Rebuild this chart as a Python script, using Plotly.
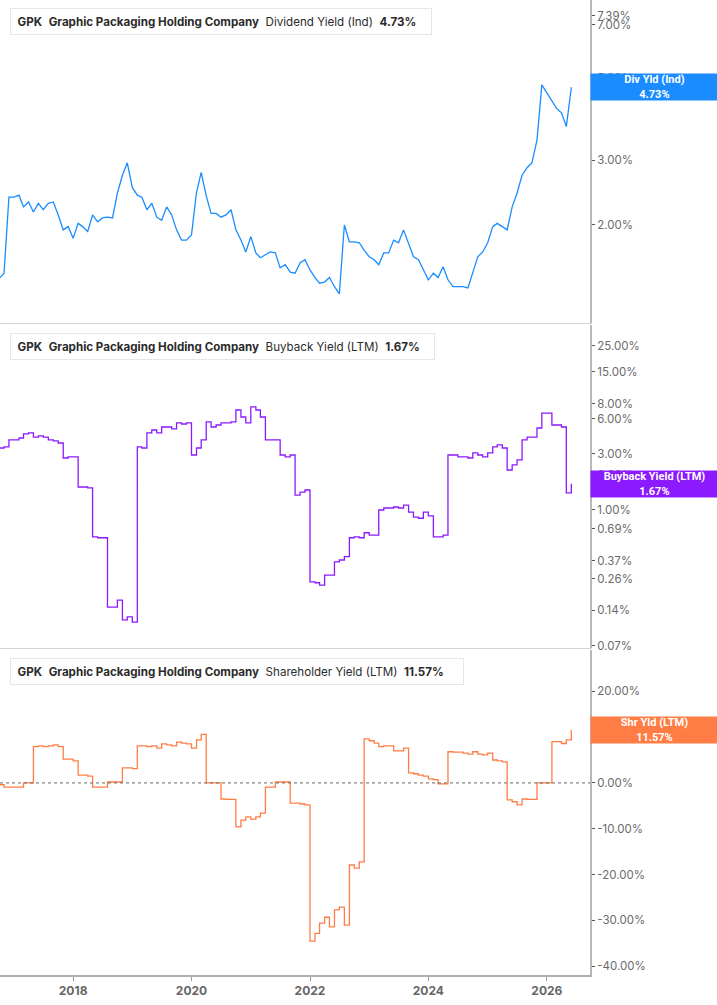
import numpy as np
import pandas as pd
import plotly.graph_objects as go

# monthly observations, Oct 2016 .. Jun 2026
dates = pd.date_range("2016-10-01", periods=117, freq="MS")

div_yield = [
    1.43, 1.48, 2.38, 2.38, 2.41, 2.24, 2.31, 2.17, 2.29, 2.20, 2.29, 2.31, 2.13, 1.94, 1.98,
    1.84, 2.02, 1.98, 1.92, 2.13, 2.04, 2.09, 2.10, 2.09, 2.44, 2.73, 2.95, 2.53, 2.41, 2.38,
    2.20, 2.29, 2.10, 2.06, 2.24, 2.13, 1.94, 1.82, 1.82, 1.88, 2.45, 2.78, 2.40, 2.15, 2.15,
    2.10, 2.13, 2.20, 1.94, 1.82, 1.69, 1.86, 1.68, 1.63, 1.66, 1.69, 1.68, 1.53, 1.56, 1.49,
    1.48, 1.58, 1.61, 1.51, 1.44, 1.39, 1.40, 1.44, 1.36, 1.30, 2.00, 1.80, 1.80, 1.79, 1.71,
    1.64, 1.61, 1.56, 1.68, 1.68, 1.82, 1.79, 1.94, 1.79, 1.64, 1.61, 1.51, 1.42, 1.48, 1.44,
    1.54, 1.42, 1.36, 1.36, 1.36, 1.35, 1.49, 1.64, 1.69, 1.79, 1.98, 2.02, 1.98, 1.94, 2.24,
    2.44, 2.73, 2.86, 2.95, 3.40, 4.80, 4.57, 4.37, 4.15, 4.03, 3.70, 4.73,
]

buyback_yield = [
    3.37, 3.44, 3.95, 3.95, 4.10, 4.44, 4.53, 4.18, 4.27, 4.18, 3.95, 3.87, 3.72, 2.77, 2.83,
    2.83, 1.57, 1.57, 1.54, 0.59, 0.58, 0.58, 0.149, 0.149, 0.171, 0.116, 0.123, 0.111, 3.44, 3.37,
    4.53, 4.80, 4.53, 5.09, 5.09, 4.90, 5.51, 5.40, 5.51, 2.94, 3.37, 3.95, 5.62, 5.09, 5.29,
    5.51, 5.51, 5.62, 7.10, 6.19, 5.51, 7.54, 7.10, 6.19, 3.95, 3.95, 3.95, 2.94, 2.83, 2.94,
    1.34, 1.42, 1.48, 0.244, 0.24, 0.229, 0.279, 0.279, 0.361, 0.375, 0.40, 0.58, 0.59, 0.58, 0.64,
    0.61, 0.61, 1.00, 1.04, 1.04, 1.06, 1.04, 1.10, 0.96, 0.87, 0.85, 0.96, 0.89, 0.59, 0.59,
    0.61, 2.94, 2.94, 2.83, 2.83, 2.77, 3.06, 2.94, 2.83, 3.06, 3.44, 3.58, 3.37, 2.19, 2.42,
    2.67, 3.95, 4.18, 4.18, 4.99, 6.69, 6.69, 5.29, 5.29, 5.09, 1.40, 1.67,
]

shareholder_yield = [
    -0.4, -0.9, -0.9, -0.9, -0.9, 0.0, 0.0, 7.9, 8.1, 7.9, 8.1, 8.3, 7.9, 5.2, 5.2,
    4.8, 1.7, 1.7, 1.5, -0.9, -0.9, -0.9, 0.2, 0.2, 0.2, 3.3, 3.3, 3.1, 8.1, 8.1,
    7.9, 8.1, 7.6, 8.5, 8.3, 8.1, 8.9, 8.7, 8.5, 7.6, 9.4, 10.6, 0.0, 0.0, 0.0,
    -3.5, -3.6, -3.6, -9.6, -8.1, -7.4, -7.9, -7.4, -6.6, -0.9, -0.9, 0.2, 0.2, 0.2, -4.4,
    -4.4, -4.6, -4.8, -34.5, -32.8, -30.6, -29.3, -31.4, -27.7, -27.1, -31.0, -17.9, -18.6, -17.2, 9.6,
    9.2, 8.7, 7.9, 8.1, 8.1, 7.0, 7.0, 7.6, 2.2, 2.0, 1.7, 1.5, 0.9, 0.7, -0.2,
    -0.2, 6.8, 6.7, 6.7, 6.5, 6.3, 6.8, 6.3, 6.1, 6.5, 5.0, 4.8, 4.6, -3.7, -4.1,
    -4.8, -3.5, -3.6, -3.6, 0.0, 0.0, 0.0, 9.0, 9.0, 8.6, 9.4, 11.57,
]

div_ticks = [2, 3, 5, 7, 7.39]
buyback_ticks = [0.07, 0.14, 0.26, 0.37, 0.69, 1, 2, 3, 6, 8, 15, 25]
shr_ticks = [-40, -30, -20, -10, 0, 10, 20]
year_ticks = ["2018", "2020", "2022", "2024", "2026"]

BLUE = "#1a8cff"
PURPLE = "#8c1aff"
ORANGE = "#ff7d45"
FONT = "Inter"

fig = go.Figure()
fig.add_trace(go.Scatter(x=dates, y=div_yield, mode="lines", line=dict(color=BLUE, width=1.3),
                         xaxis="x", yaxis="y"))
fig.add_trace(go.Scatter(x=dates, y=buyback_yield, mode="lines", line=dict(color=PURPLE, width=1.3, shape="hv"),
                         xaxis="x2", yaxis="y2"))
fig.add_trace(go.Scatter(x=dates, y=shareholder_yield, mode="lines", line=dict(color=ORANGE, width=1.3, shape="hv"),
                         xaxis="x3", yaxis="y3"))

x_range = ["2016-10-07", "2026-09-24"]
PLOT_H = 975.0
PLOT_W = 590.0

def ydom(top_px, bot_px):
    return [1 - bot_px / PLOT_H, 1 - top_px / PLOT_H]

tick_font = dict(family=FONT, size=11.5, color="#6b6b6b")
yax_common = dict(side="right", showgrid=False, zeroline=False, showline=True, linecolor="#b8b8b8",
                  linewidth=2, ticks="outside", ticklen=3, tickcolor="#555", tickfont=tick_font)
xax_common = dict(range=x_range, showgrid=False, zeroline=False, showline=True, type="date")

fig.update_layout(
    width=717, height=1005,
    margin=dict(l=0, r=127, t=0, b=30),
    paper_bgcolor="white", plot_bgcolor="white",
    showlegend=False,
    xaxis=dict(xax_common, anchor="y", showticklabels=False, linecolor="#d4d4d4", linewidth=1),
    xaxis2=dict(xax_common, anchor="y2", matches="x", showticklabels=False, linecolor="#d4d4d4", linewidth=1),
    xaxis3=dict(xax_common, anchor="y3", matches="x", linecolor="#b0b0b0", linewidth=2,
                ticks="outside", ticklen=4, tickcolor="#999",
                tickvals=[f"{y}-01-01" for y in year_ticks],
                ticktext=[f"<b>{y}</b>" for y in year_ticks],
                tickfont=dict(family=FONT, size=12, color="#666")),
    yaxis=dict(yax_common, anchor="x", domain=ydom(0, 323), type="log",
               range=[np.log10(1.084), np.log10(8.16)],
               tickvals=div_ticks, ticktext=[f"{v:.2f}%" for v in div_ticks]),
    yaxis2=dict(yax_common, anchor="x2", domain=ydom(325, 648), type="log",
                range=[np.log10(0.0668), np.log10(37.6)],
                tickvals=buyback_ticks, ticktext=[f"{v:.2f}%" for v in buyback_ticks]),
    yaxis3=dict(yax_common, anchor="x3", domain=ydom(650, 975), range=[-41.9, 29.0],
                tickvals=shr_ticks, ticktext=[f"{v:.2f}%" for v in shr_ticks]),
)

# zero reference line in the shareholder panel
fig.add_shape(type="line", xref="x3 domain", yref="y3", x0=0, x1=1, y0=0, y1=0,
              line=dict(color="#666", width=1, dash="dot"))

legends = [
    ("Dividend Yield (Ind)", "4.73%", BLUE, 8, 420),
    ("Buyback Yield (LTM)", "1.67%", PURPLE, 333, 423),
    ("Shareholder Yield (LTM)", "11.57%", ORANGE, 658, 452),
]
sp = "&nbsp;&nbsp;"
for name, last, color, top, w in legends:
    fig.add_annotation(
        xref="paper", yref="paper", x=10 / PLOT_W, y=1 - top / PLOT_H, xanchor="left", yanchor="top",
        text=f"&nbsp;&nbsp;<b>GPK</b>{sp}<b>Graphic Packaging Holding Company</b>{sp}{name}{sp}<b>{last}</b>",
        showarrow=False, align="left", width=w, height=25, borderpad=0,
        bgcolor="white", bordercolor="#e6e6e6", borderwidth=1,
        font=dict(family=FONT, size=11.6, color="#2b2b2b"),
    )
    fig.add_shape(type="rect", xref="paper", yref="paper", x0=10 / PLOT_W, x1=13.5 / PLOT_W,
                  y0=1 - (top + 25) / PLOT_H, y1=1 - top / PLOT_H, line=dict(width=0), fillcolor=color)

labels = [
    ("Div Yld (Ind)", "4.73%", BLUE, "y", np.log10(4.73)),
    ("Buyback Yield (LTM)", "1.67%", PURPLE, "y2", np.log10(1.67)),
    ("Shr Yld (LTM)", "11.57%", ORANGE, "y3", 11.57),
]
for name, last, color, yref, yv in labels:
    fig.add_annotation(
        xref="paper", yref=yref, x=1, y=yv, xanchor="left", yanchor="middle",
        text=f"<b>{name}</b><br><b>{last}</b>", showarrow=False,
        width=127, height=26, borderpad=0, bgcolor=color,
        font=dict(family="Roboto", size=11, color="white"),
    )

fig.write_html("out.html", config={"displayModeBar": False},
               post_script="document.body.style.margin='0';")
